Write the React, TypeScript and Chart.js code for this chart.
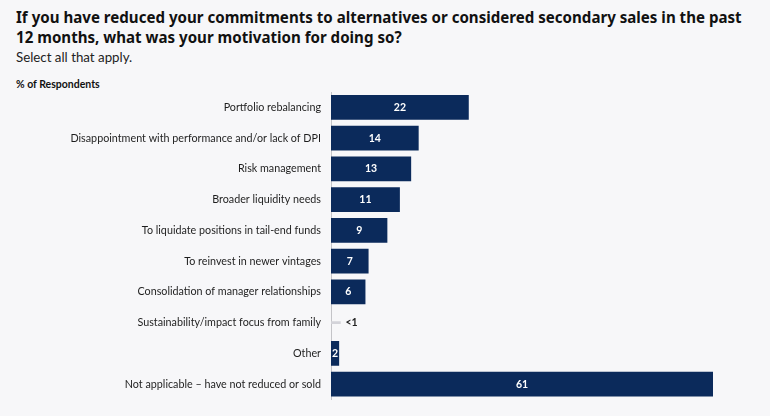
import React, { useEffect, useRef } from "react";
import { Chart, registerables } from "chart.js";

Chart.register(...registerables);

const categories = [
  "Portfolio rebalancing",
  "Disappointment with performance and/or lack of DPI",
  "Risk management",
  "Broader liquidity needs",
  "To liquidate positions in tail-end funds",
  "To reinvest in newer vintages",
  "Consolidation of manager relationships",
  "Sustainability/impact focus from family",
  "Other",
  "Not applicable – have not reduced or sold",
];
const barValues = [22, 14, 12.8, 11, 9, 6, 5.5, null, 1.3, 61];
const placeholderValues = [null, null, null, null, null, null, null, 1.5, null, null];
const valueLabels = ["22", "14", "13", "11", "9", "7", "6", "<1", "2", "61"];

const FONT = "Lato, 'Noto Sans', sans-serif";
const TITLE_FONT = "'Noto Sans', sans-serif";
const NAVY = "#0b2a5b";

const valueLabelPlugin = {
  id: "valueLabels",
  afterDatasetsDraw(chart: any) {
    const ctx = chart.ctx;
    const xScale = chart.scales.x;
    const yScale = chart.scales.y;
    ctx.save();
    ctx.font = `bold 10.5px ${FONT}`;
    ctx.textBaseline = "middle";
    barValues.forEach((v, i) => {
      const y = yScale.getPixelForValue(i);
      if (v == null) {
        const x = xScale.getPixelForValue(placeholderValues[i] ?? 0);
        ctx.fillStyle = "#222";
        ctx.textAlign = "left";
        ctx.fillText(valueLabels[i], x + 5, y);
      } else {
        const x0 = xScale.getPixelForValue(0);
        const x1 = xScale.getPixelForValue(v);
        ctx.fillStyle = "#ffffff";
        ctx.textAlign = "center";
        ctx.fillText(valueLabels[i], (x0 + x1) / 2, y);
      }
    });
    ctx.restore();
  },
};

export default function App() {
  const canvasRef = useRef<HTMLCanvasElement>(null);

  useEffect(() => {
    document.body.style.margin = "0";
    const chart = new Chart(canvasRef.current!, {
      type: "bar",
      data: {
        labels: categories,
        datasets: [
          {
            data: barValues as any,
            backgroundColor: NAVY,
            barPercentage: 0.8,
            categoryPercentage: 1,
            grouped: false,
          },
          {
            data: placeholderValues as any,
            backgroundColor: "#d3d3d9",
            barThickness: 2,
            grouped: false,
          },
        ],
      },
      options: {
        indexAxis: "y",
        animation: false,
        responsive: false,
        maintainAspectRatio: false,
        layout: { padding: { top: 92, bottom: 14, left: 0, right: 57 } },
        plugins: {
          legend: { display: false },
          tooltip: { enabled: false },
        },
        scales: {
          x: { display: false, min: 0, max: 61 },
          y: {
            afterFit: (scale: any) => {
              scale.width = 331;
            },
            grid: { display: false, drawTicks: false },
            border: { display: true, color: "#c4c4c8", width: 1 },
            ticks: {
              padding: 10,
              color: "#1e1e1e",
              font: { family: FONT, size: 10.75 },
            },
          },
        },
      },
      plugins: [valueLabelPlugin],
    });
    return () => chart.destroy();
  }, []);

  return (
    <div
      style={{
        position: "fixed",
        left: 0,
        top: 0,
        width: 770,
        height: 416,
        background: "#f7f7f9",
        overflow: "hidden",
      }}
    >
      <div
        style={{
          position: "absolute",
          left: 16,
          top: 7,
          whiteSpace: "nowrap",
          fontFamily: TITLE_FONT,
          fontWeight: 700,
          fontSize: 15.1,
          lineHeight: "20px",
          color: "#111",
        }}
      >
        If you have reduced your commitments to alternatives or considered secondary sales in the past
        <br />
        12 months, what was your motivation for doing so?
      </div>
      <div
        style={{
          position: "absolute",
          left: 16,
          top: 48,
          fontFamily: FONT,
          fontSize: 13.3,
          lineHeight: "18px",
          color: "#222",
        }}
      >
        Select all that apply.
      </div>
      <div
        style={{
          position: "absolute",
          left: 16,
          top: 77,
          fontFamily: FONT,
          fontWeight: 700,
          fontSize: 10.5,
          lineHeight: "14px",
          color: "#111",
        }}
      >
        % of Respondents
      </div>
      <canvas
        ref={canvasRef}
        width={770}
        height={416}
        style={{ position: "absolute", left: 0, top: 0, width: 770, height: 416 }}
      />
    </div>
  );
}
